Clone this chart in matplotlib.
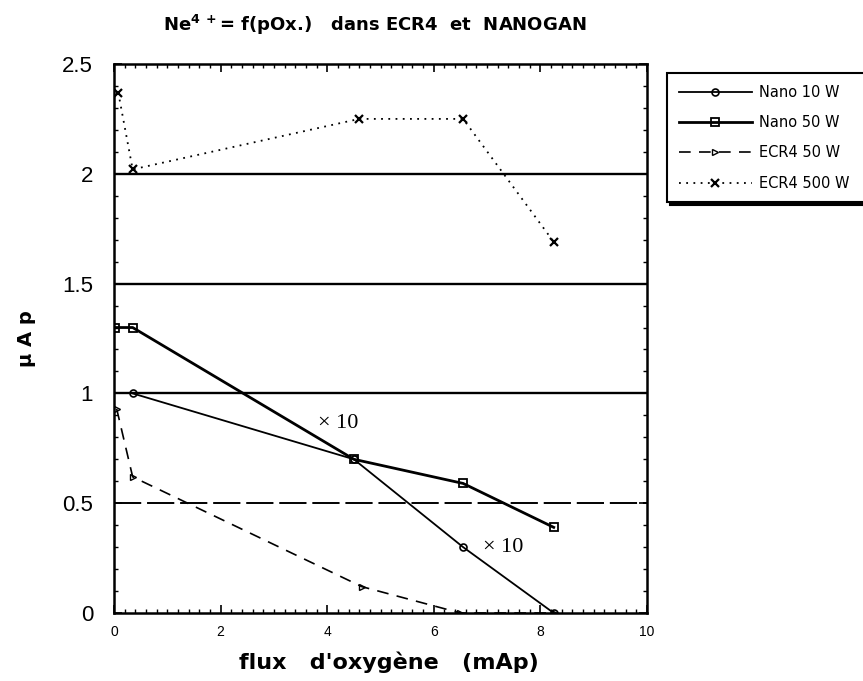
import matplotlib
matplotlib.use("Agg")
import matplotlib.pyplot as plt
from matplotlib.ticker import MultipleLocator

plt.rcParams['font.family'] = ['Liberation Sans', 'DejaVu Sans']
plt.rcParams['mathtext.fontset'] = 'dejavusans'

# ---- data ----
nano10_x = [0.35, 4.5, 6.55, 8.25]
nano10_y = [1.00, 0.70, 0.30, 0.00]

nano50_x = [0.02, 0.35, 4.5, 6.55, 8.25]
nano50_y = [1.30, 1.30, 0.70, 0.59, 0.39]

ecr50_x = [0.05, 0.35, 4.65, 6.5, 8.25]
ecr50_y = [0.93, 0.62, 0.12, 0.00, 0.00]

ecr500_x = [0.08, 0.35, 4.6, 6.55, 8.25]
ecr500_y = [2.37, 2.02, 2.25, 2.25, 1.69]

grid_levels = [0.5, 1.0, 1.5, 2.0]
x_ticks = [0, 2, 4, 6, 8, 10]
y_ticks = [0, 0.5, 1, 1.5, 2, 2.5]
y_ticklabels = ['0', '0.5', '1', '1.5', '2', '2.5']
labels = ['Nano 10 W', 'Nano 50 W', 'ECR4 50 W', 'ECR4 500 W']

fig = plt.figure(figsize=(8.63, 6.81), dpi=100)
ax = fig.add_axes([114/863, 1-613/681, (647-114)/863, (613-64)/681])

# horizontal reference lines
for g in grid_levels:
    if g == 0.5:
        ax.axhline(g, color='black', lw=1.4, ls=(0, (14, 3)), zorder=1)
    else:
        ax.axhline(g, color='black', lw=1.7, zorder=1)

l1, = ax.plot(nano10_x, nano10_y, color='black', lw=1.3, marker='o',
              ms=5, mfc='none', mew=1.2, label=labels[0])
l2, = ax.plot(nano50_x, nano50_y, color='black', lw=2.0, marker='s',
              ms=5.5, mfc='none', mew=1.3, label=labels[1])
l3, = ax.plot(ecr50_x, ecr50_y, color='black', lw=1.2, ls=(0, (7, 5)),
              marker='>', ms=4.5, mfc='none', mew=1.0, label=labels[2])
l4, = ax.plot(ecr500_x, ecr500_y, color='black', lw=1.3, ls=(0, (1, 3)),
              marker='x', ms=6, mew=1.6, label=labels[3])

ax.text(3.83, 0.865, '× 10', fontsize=16, family='Liberation Serif', va='center')
ax.text(6.92, 0.30, '× 10', fontsize=16, family='Liberation Serif', va='center')

ax.set_xlim(0, 10)
ax.set_ylim(0, 2.5)
ax.set_xticks(x_ticks)
ax.set_yticks(y_ticks)
ax.set_yticklabels(y_ticklabels)
ax.xaxis.set_minor_locator(MultipleLocator(0.2))
ax.yaxis.set_minor_locator(MultipleLocator(0.1))
ax.tick_params(which='both', direction='in', top=True, right=True, color='black')
ax.tick_params(which='major', length=6, width=1.2)
ax.tick_params(which='minor', length=3, width=1.0)
ax.tick_params(axis='y', labelsize=16, pad=15)
ax.tick_params(axis='x', labelsize=10, pad=9)
for s in ax.spines.values():
    s.set_linewidth(1.8)

fig.text(389/863, 1-662/681, "flux   d'oxygène   (mAp)", fontsize=16,
         fontweight='bold', family='DejaVu Sans', ha='center', va='center')
fig.text(26/863, 1-339/681, 'µ A p', rotation=90, fontsize=14, fontweight='bold',
         family='DejaVu Sans', ha='center', va='center')
fig.text(163/863, 1-25/681, r"Ne$^{\mathbf{4\ +}}$= f(pOx.)   dans ECR4  et  NANOGAN",
         fontsize=13, fontweight='bold', family='DejaVu Sans', ha='left', va='center')

leg = ax.legend(handles=[l1, l2, l3, l4], loc='upper left',
                bbox_to_anchor=(667/863, 1-207/681, 215/863, 134/681),
                bbox_transform=fig.transFigure, mode='expand',
                prop={'family': 'DejaVu Sans', 'size': 10.5},
                frameon=True, fancybox=False,
                shadow={'color': 'black', 'alpha': 1.0},
                labelspacing=1.05, borderpad=0.8, handlelength=5.0,
                handletextpad=0.5, borderaxespad=0)
leg.get_frame().set_edgecolor('black')
leg.get_frame().set_linewidth(1.5)

fig.savefig('out.png', dpi=100)
